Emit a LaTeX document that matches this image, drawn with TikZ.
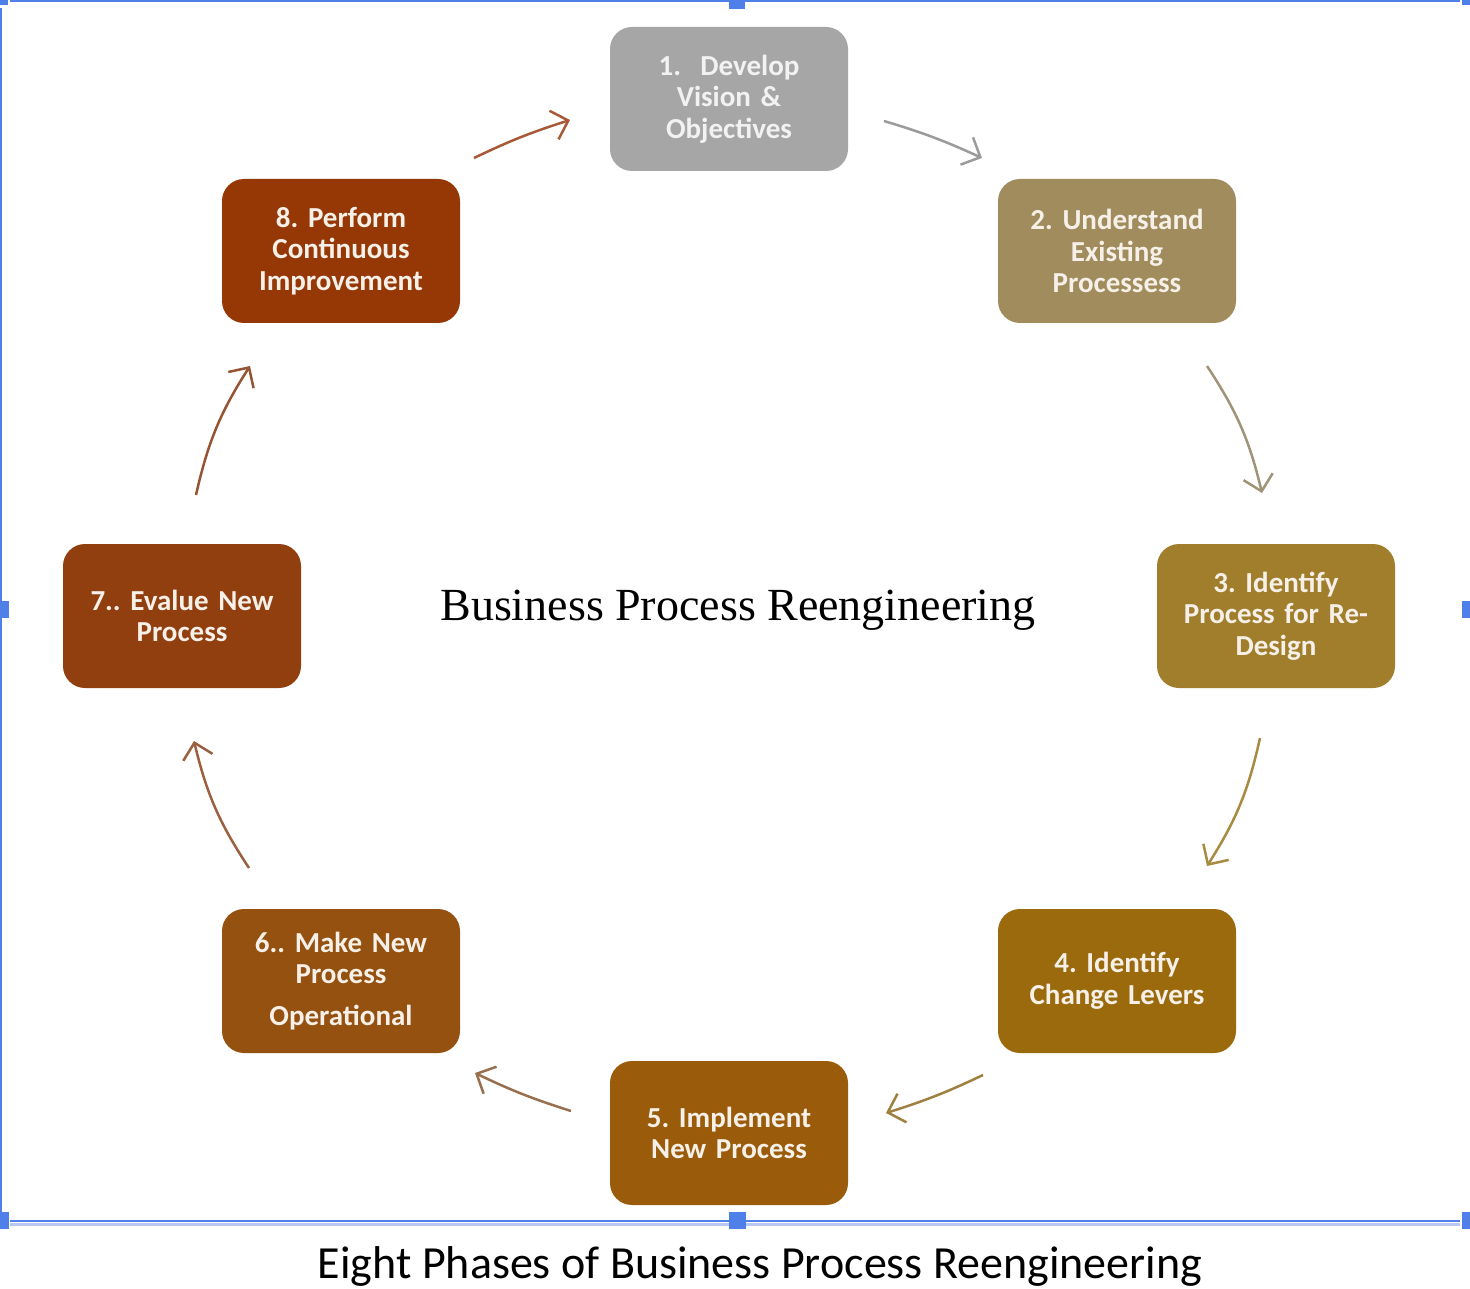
\documentclass[tikz,border=0pt]{standalone}
\usepackage{fontspec}
\setmainfont{Liberation Serif}
\newfontfamily\boxfont{Carlito}
\usetikzlibrary{arrows.meta}
\frenchspacing
\definecolor{cA}{HTML}{A6A6A6}
\definecolor{cB}{HTML}{A08C5C}
\definecolor{cC}{HTML}{A07E2C}
\definecolor{cD}{HTML}{9A6A0C}
\definecolor{cE}{HTML}{9A5C0A}
\definecolor{cF}{HTML}{95510F}
\definecolor{cG}{HTML}{923F10}
\definecolor{cH}{HTML}{953806}
\definecolor{aA}{HTML}{9B9B9B}
\definecolor{aB}{HTML}{A09478}
\definecolor{aC}{HTML}{A88A40}
\definecolor{aD}{HTML}{A08040}
\definecolor{aE}{HTML}{987050}
\definecolor{aF}{HTML}{9A6040}
\definecolor{aG}{HTML}{955535}
\definecolor{aH}{HTML}{A85A38}
\definecolor{selblue}{HTML}{4F7FE8}
\definecolor{selblueL}{HTML}{B8C8F4}
\definecolor{txtW}{HTML}{F6F0E8}
\begin{document}
\begin{tikzpicture}[x=1pt,y=-1pt,
  phase/.style={rounded corners=22pt, minimum width=238pt, minimum height=144pt,
    text width=230pt, align=center, inner sep=0pt, text=txtW,
    font=\boxfont\bfseries\fontsize{29}{31.5}\selectfont},
  flow/.style={line width=2.5pt, -{Straight Barb[length=15pt,width=30pt]}, bend left=10},
  handle/.style={fill=selblue, draw=none}]
\useasboundingbox (0,0) rectangle (1470,1289);
\fill[white] (0,0) rectangle (1470,1289);

% selection frame
\draw[selblue, line width=2.5pt] (10,1.2) -- (1460,1.2);
\draw[selblue, line width=2.5pt] (1.2,8) -- (1.2,1216);
\draw[selblueL, line width=3pt] (10,1224) -- (1460,1224);
\draw[selblue, line width=2.5pt] (10,1221) -- (1460,1221);
\fill[handle] (0,0) rectangle (8,5);
\fill[handle] (729,0) rectangle (745,9);
\fill[handle] (1462,0) rectangle (1470,5);
\fill[handle] (0,601) rectangle (9,618);
\fill[handle] (1462,601) rectangle (1470,618);
\fill[handle] (0,1212) rectangle (9,1229);
\fill[handle] (729,1212) rectangle (746,1229);
\fill[handle] (1462,1212) rectangle (1470,1229);

% phases
\node[phase, fill=cA, text=white!95!black] (p1) at (729,99) {1.\ \ Develop\\Vision \&\\Objectives};
\node[phase, fill=cB] (p2) at (1117,251) {2. Understand\\Existing\\Processess};
\node[phase, fill=cC] (p3) at (1276,616) {3. Identify\\Process for Re-\\Design};
\node[phase, fill=cD] (p4) at (1117,981) {4. Identify\\Change Levers};
\node[phase, fill=cE] (p5) at (729,1133) {5. Implement\\New Process};
\node[phase, fill=cF] (p6) at (341,981) {6.. Make New\\Process\\[10pt]Operational};
\node[phase, fill=cG] (p7) at (182,616) {7.. Evalue New\\Process};
\node[phase, fill=cH] (p8) at (341,251) {8. Perform\\Continuous\\Improvement};

% title
\node[font=\fontsize{46}{52}\selectfont, inner sep=0pt] (title) at (738,610) {Business Process Reengineering};
\node[font=\boxfont\fontsize{46}{52}\selectfont, inner sep=0pt] (caption) at (760,1266) {Eight Phases of Business Process Reengineering};

% arrow end points
\coordinate (s12) at (884,121); \coordinate (e12) at (982,158);
\coordinate (s23) at (1207,366); \coordinate (e23) at (1262,493);
\coordinate (s34) at (1260,738); \coordinate (e34) at (1207,866);
\coordinate (s45) at (983,1075); \coordinate (e45) at (886,1113);
\coordinate (s56) at (571,1111); \coordinate (e56) at (475,1073);
\coordinate (s67) at (249,868); \coordinate (e67) at (194,741);
\coordinate (s78) at (196,495); \coordinate (e78) at (250,366);
\coordinate (s81) at (474,158); \coordinate (e81) at (570,120);

\draw[flow, aA, bend left=4] (s12) to (e12);
\draw[flow, aB] (s23) to (e23);
\draw[flow, aC] (s34) to (e34);
\draw[flow, aD, bend left=4] (s45) to (e45);
\draw[flow, aE, bend left=4] (s56) to (e56);
\draw[flow, aF] (s67) to (e67);
\draw[flow, aG] (s78) to (e78);
\draw[flow, aH, bend left=4] (s81) to (e81);
\end{tikzpicture}
\end{document}
